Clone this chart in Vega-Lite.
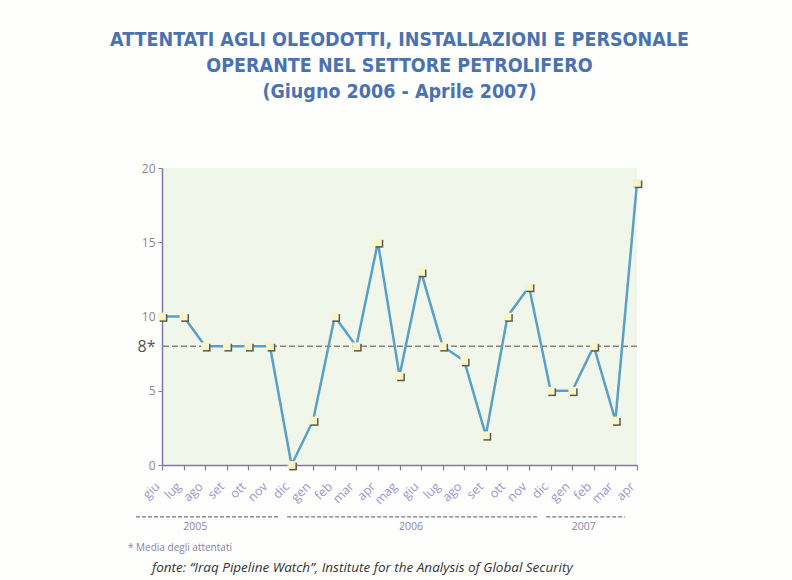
{
  "$schema": "https://vega.github.io/schema/vega-lite/v6.json",
  "width": 475,
  "height": 297,
  "autosize": {"type": "none"},
  "padding": {"left": 162, "top": 168, "right": 155, "bottom": 115},
  "background": "#fefefc",
  "view": {"fill": "#f0f7ea", "stroke": null},
  "title": {
    "text": ["ATTENTATI AGLI OLEODOTTI, INSTALLAZIONI E PERSONALE", "OPERANTE NEL SETTORE PETROLIFERO", "(Giugno 2006 - Aprile 2007)"],
    "font": "DejaVu Sans Condensed, Liberation Sans Narrow, sans-serif",
    "fontSize": 19.5,
    "fontWeight": "bold",
    "color": "#4a72b0",
    "lineHeight": 26,
    "anchor": "middle",
    "offset": 60
  },
  "datasets": {
    "series": [
      {"m": "giu 2005", "v": 10}, {"m": "lug 2005", "v": 10}, {"m": "ago 2005", "v": 8},
      {"m": "set 2005", "v": 8}, {"m": "ott 2005", "v": 8}, {"m": "nov 2005", "v": 8},
      {"m": "dic 2005", "v": 0}, {"m": "gen 2006", "v": 3}, {"m": "feb 2006", "v": 10},
      {"m": "mar 2006", "v": 8}, {"m": "apr 2006", "v": 15}, {"m": "mag 2006", "v": 6},
      {"m": "giu 2006", "v": 13}, {"m": "lug 2006", "v": 8}, {"m": "ago 2006", "v": 7},
      {"m": "set 2006", "v": 2}, {"m": "ott 2006", "v": 10}, {"m": "nov 2006", "v": 12},
      {"m": "dic 2006", "v": 5}, {"m": "gen 2007", "v": 5}, {"m": "feb 2007", "v": 8},
      {"m": "mar 2007", "v": 3}, {"m": "apr 2007", "v": 19}
    ],
    "years": [
      {"year": "2005", "s": "giu 2005", "e": "dic 2005", "mid": "ago 2005"},
      {"year": "2006", "s": "gen 2006", "e": "dic 2006", "mid": "giu 2006"},
      {"year": "2007", "s": "gen 2007", "e": "apr 2007", "mid": "feb 2007"}
    ]
  },
  "encoding": {
    "x": {
      "field": "m",
      "type": "ordinal",
      "scale": {
        "type": "point",
        "padding": 0,
        "domain": ["giu 2005", "lug 2005", "ago 2005", "set 2005", "ott 2005", "nov 2005", "dic 2005", "gen 2006", "feb 2006", "mar 2006", "apr 2006", "mag 2006", "giu 2006", "lug 2006", "ago 2006", "set 2006", "ott 2006", "nov 2006", "dic 2006", "gen 2007", "feb 2007", "mar 2007", "apr 2007"]
      },
      "axis": {
        "title": null,
        "labelExpr": "split(datum.value, ' ')[0]",
        "labelAngle": -45,
        "labelAlign": "right",
        "labelBaseline": "middle",
        "labelFont": "Open Sans",
        "labelFontSize": 12.5,
        "labelColor": "#9d95d0",
        "labelPadding": 14,
        "labelOffset": -5,
        "domainColor": "#8078a8",
        "domainWidth": 1.5,
        "tickColor": "#8078a8",
        "tickSize": 5,
        "tickWidth": 1.2
      }
    },
    "y": {
      "type": "quantitative",
      "scale": {"domain": [0, 20], "nice": false, "zero": true},
      "axis": {
        "title": null,
        "grid": false,
        "values": [0, 5, 8, 10, 15, 20],
        "labelExpr": "datum.value == 8 ? '8*' : datum.label",
        "labelFont": "Open Sans",
        "labelFontSize": {"condition": {"test": "datum.value == 8", "value": 16}, "value": 12},
        "labelColor": {"condition": {"test": "datum.value == 8", "value": "#555555"}, "value": "#8a8a8a"},
        "tickOpacity": {"condition": {"test": "datum.value == 8", "value": 0}, "value": 1},
        "labelPadding": 3,
        "domainColor": "#8078a8",
        "domainWidth": 1.5,
        "tickColor": "#8078a8",
        "tickSize": 4
      }
    }
  },
  "layer": [
    {
      "data": {"values": [{"avg": 8}]},
      "mark": {"type": "rule", "color": "#8a807a", "strokeDash": [6, 3], "strokeWidth": 1.5},
      "encoding": {"y": {"field": "avg", "type": "quantitative"}, "x": null}
    },
    {
      "data": {"name": "series"},
      "mark": {"type": "line", "color": "#5aa0c5", "strokeWidth": 2.5},
      "encoding": {"y": {"field": "v", "type": "quantitative"}}
    },
    {
      "data": {"name": "series"},
      "mark": {"type": "point", "shape": "square", "filled": true, "color": "#5a5a48", "size": 60, "opacity": 1, "xOffset": 1.5, "yOffset": 1.5},
      "encoding": {"y": {"field": "v", "type": "quantitative"}}
    },
    {
      "data": {"name": "series"},
      "mark": {"type": "point", "shape": "square", "filled": true, "color": "#f8f4c8", "size": 60, "opacity": 1},
      "encoding": {"y": {"field": "v", "type": "quantitative"}}
    },
    {
      "data": {"name": "years"},
      "mark": {"type": "rule", "color": "#7a7090", "strokeDash": [4, 2], "strokeWidth": 1.2, "xOffset": -26, "x2Offset": -12},
      "encoding": {
        "x": {"field": "s", "type": "ordinal"},
        "x2": {"field": "e"},
        "y": {"datum": -3.5}
      }
    },
    {
      "data": {"name": "years"},
      "mark": {"type": "text", "color": "#8a84a8", "font": "Open Sans", "fontSize": 10.5, "baseline": "middle", "xOffset": -10},
      "encoding": {
        "x": {"field": "mid", "type": "ordinal"},
        "y": {"datum": -4.2},
        "text": {"field": "year"}
      }
    },
    {
      "data": {"values": [{"note": "* Media degli attentati"}]},
      "mark": {"type": "text", "color": "#8880a8", "font": "Open Sans", "fontSize": 10, "align": "left", "baseline": "middle", "xOffset": -34},
      "encoding": {
        "x": {"datum": "giu 2005"},
        "y": {"datum": -5.6},
        "text": {"field": "note"}
      }
    },
    {
      "data": {"values": [{"note": "fonte: “Iraq Pipeline Watch”, Institute for the Analysis of Global Security"}]},
      "mark": {"type": "text", "color": "#333333", "font": "Open Sans", "fontSize": 13.5, "fontStyle": "italic", "align": "left", "baseline": "middle", "xOffset": -10},
      "encoding": {
        "x": {"datum": "giu 2005"},
        "y": {"datum": -6.95},
        "text": {"field": "note"}
      }
    }
  ]
}
